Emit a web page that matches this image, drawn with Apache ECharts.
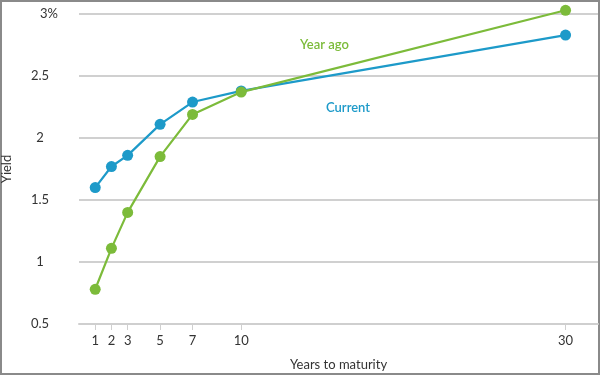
<!DOCTYPE html>
<html>
<head>
<meta charset="utf-8">
<script src="https://cdn.jsdelivr.net/npm/echarts@6/dist/echarts.min.js"></script>
<style>
html,body{margin:0;padding:0;background:#fff;}
#frame{position:relative;width:600px;height:375px;box-sizing:border-box;border:2px solid #8a8a8a;}
#chart{position:absolute;left:-2px;top:-2px;width:600px;height:375px;}
</style>
</head>
<body>
<div id="frame"><div id="chart"></div></div>
<script>
const maturities = [1, 2, 3, 5, 7, 10, 30];
const currentYield = [1.60, 1.77, 1.86, 2.11, 2.29, 2.38, 2.83];
const yearAgoYield = [0.78, 1.11, 1.40, 1.85, 2.19, 2.37, 3.03];
const yTicks = [0.5, 1, 1.5, 2, 2.5, 3];

const blue = '#1d9ac9';
const green = '#7cbb3a';
const font = 'Lato';

const chart = echarts.init(document.getElementById('chart'), null, {renderer: 'canvas'});
chart.setOption({
  animation: false,
  textStyle: {fontFamily: font},
  grid: {left: 79, right: 2, top: 14, bottom: 51, containLabel: false, outerBoundsMode: 'none'},
  xAxis: {
    type: 'value', min: 0, max: 32,
    name: 'Years to maturity', nameLocation: 'middle', nameGap: 34,
    nameTextStyle: {fontFamily: font, fontSize: 13, color: '#333'},
    axisLine: {show: true, lineStyle: {color: '#cfcfcf', width: 2}},
    axisTick: {show: true, customValues: maturities, length: 6, lineStyle: {color: '#cfcfcf', width: 1}},
    axisLabel: {customValues: maturities, margin: 10, fontSize: 13, color: '#333', fontFamily: font},
    splitLine: {show: false}
  },
  yAxis: {
    type: 'value', min: 0.5, max: 3, interval: 0.5,
    name: 'Yield', nameLocation: 'middle', nameRotate: 90, nameGap: 66,
    nameTextStyle: {fontFamily: font, fontSize: 13, color: '#333'},
    axisLine: {show: false}, axisTick: {show: false},
    axisLabel: {
      margin: 39, align: 'center', fontSize: 13, color: '#333', fontFamily: font,
      formatter: v => v === 3 ? '{p|3%}' : String(v),
      rich: {p: {padding: [0, 0, 0, 18], fontSize: 13, color: '#333', fontFamily: font}}
    },
    splitLine: {show: true, lineStyle: {color: '#d0d0d0', width: 2}}
  },
  series: [
    {
      name: 'Current', type: 'line', clip: false,
      data: maturities.map((m, i) => [m, currentYield[i]]),
      symbol: 'circle', symbolSize: 11, showAllSymbol: true,
      lineStyle: {color: blue, width: 2.2}, itemStyle: {color: blue}, z: 3
    },
    {
      name: 'Year ago', type: 'line', clip: false,
      data: maturities.map((m, i) => [m, yearAgoYield[i]]),
      symbol: 'circle', symbolSize: 11, showAllSymbol: true,
      lineStyle: {color: green, width: 2.2}, itemStyle: {color: green}, z: 4
    }
  ],
  graphic: [
    {type: 'text', left: 300, top: 38, style: {text: 'Year ago', fill: green, font: '600 13px Lato'}},
    {type: 'text', left: 326, top: 101, style: {text: 'Current', fill: blue, font: '600 13px Lato'}}
  ]
});
</script>
</body>
</html>
